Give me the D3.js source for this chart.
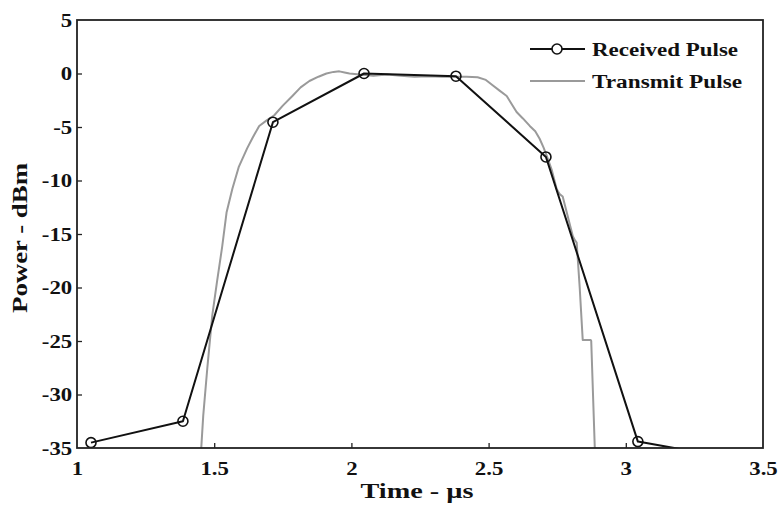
<!DOCTYPE html>
<html>
<head>
<meta charset="utf-8">
<script src="https://cdn.jsdelivr.net/npm/d3@7"></script>
<style>
  html, body { margin: 0; padding: 0; background: #fff; }
  svg { display: block; }
  text { font-family: "Liberation Serif", "Times New Roman", serif; font-weight: bold; fill: #111; }
</style>
</head>
<body>
<svg id="chart" width="779" height="506"></svg>
<script>
// ---- data ----
const receivedTime  = [1.051, 1.386, 1.714, 2.046, 2.381, 2.709, 3.044, 3.376];
const receivedPower = [-34.5, -32.5, -4.55, 0.0, -0.25, -7.8, -34.4, -35.9];

const transmitTime  = [1.448, 1.46, 1.475, 1.493, 1.51, 1.529, 1.545, 1.566, 1.59, 1.62, 1.64, 1.664, 1.69, 1.719, 1.75, 1.785, 1.815, 1.847, 1.88, 1.909, 1.935, 1.956, 1.975, 1.993, 2.03, 2.08, 2.13, 2.18, 2.23, 2.28, 2.33, 2.38, 2.42, 2.46, 2.49, 2.51, 2.54, 2.566, 2.585, 2.602, 2.625, 2.65, 2.67, 2.686, 2.70, 2.712, 2.73, 2.748, 2.76, 2.77, 2.79, 2.807, 2.815, 2.821, 2.832, 2.843, 2.845, 2.872, 2.874, 2.887, 2.888];
const transmitPower = [-37, -32, -27.5, -22.6, -19.5, -16.2, -13.0, -10.8, -8.7, -7.0, -6.0, -4.9, -4.4, -3.9, -3.0, -2.1, -1.3, -0.7, -0.3, 0.0, 0.15, 0.2, 0.1, 0.0, -0.1, -0.2, -0.1, -0.2, -0.3, -0.25, -0.3, -0.3, -0.3, -0.35, -0.6, -1.0, -1.6, -2.1, -2.9, -3.6, -4.2, -4.9, -5.4, -6.1, -6.9, -7.7, -9.0, -10.8, -11.3, -11.5, -13.5, -15.2, -15.6, -15.8, -20, -24.9, -24.9, -24.9, -25, -35, -37];

const xTicks = [1, 1.5, 2, 2.5, 3, 3.5];
const yTicks = [5, 0, -5, -10, -15, -20, -25, -30, -35];
const seriesNames = ["Received Pulse", "Transmit Pulse"];
const xTitle = "Time  - \u00b5s";
const yTitle = "Power  -  dBm";

// ---- layout ----
const L = 77, R = 763, T = 20, B = 448;
const svg = d3.select("#chart");
const x = d3.scaleLinear().domain([1, 3.5]).range([L, R]);
const y = d3.scaleLinear().domain([-35, 5]).range([B, T]);

svg.append("defs").append("clipPath").attr("id", "clip")
  .append("rect").attr("x", L).attr("y", T).attr("width", R - L).attr("height", B - T);

const fmt = d => String(d);
// axes
const xAxis = svg.append("g").attr("transform", `translate(0,${B})`)
  .call(d3.axisBottom(x).tickValues(xTicks).tickFormat(fmt).tickSizeInner(-5).tickSizeOuter(0).tickPadding(14));
const yAxis = svg.append("g").attr("transform", `translate(${L},0)`)
  .call(d3.axisLeft(y).tickValues(yTicks).tickFormat(fmt).tickSizeInner(-5).tickSizeOuter(0).tickPadding(4));
[xAxis, yAxis].forEach(g => {
  g.attr("font-family", null).attr("font-size", null);
  g.select(".domain").remove();
  g.selectAll(".tick line").attr("stroke", "#222").attr("stroke-width", 1.3);
  g.selectAll(".tick text").attr("font-size", 19).attr("fill", "#111")
    .style("font-family", "'Liberation Serif', 'Times New Roman', serif").style("font-weight", "bold");
});
// hide end ticks that coincide with frame
xAxis.selectAll(".tick").filter(d => d === 1 || d === 3.5).select("line").remove();
yAxis.selectAll(".tick").filter(d => d === 5 || d === -35).select("line").remove();
xAxis.selectAll(".tick text").attr("transform", "scale(1.2,1)");
yAxis.selectAll(".tick text").attr("transform", "scale(1.2,1)");

// lines
const plot = svg.append("g").attr("clip-path", "url(#clip)");
const line = d3.line().x(d => x(d[0])).y(d => y(d[1]));
const tData = transmitTime.map((t, i) => [t, transmitPower[i]]);
const rData = receivedTime.map((t, i) => [t, receivedPower[i]]);

plot.append("path").datum(tData).attr("d", line)
  .attr("fill", "none").attr("stroke", "#9a9a9a").attr("stroke-width", 2).attr("stroke-linejoin", "round");
plot.append("path").datum(rData).attr("d", line)
  .attr("fill", "none").attr("stroke", "#111").attr("stroke-width", 2).attr("stroke-linejoin", "round");
plot.selectAll("circle.m").data(rData).enter().append("circle").attr("class", "m")
  .attr("cx", d => x(d[0])).attr("cy", d => y(d[1])).attr("r", 5)
  .attr("fill", "none").attr("stroke", "#111").attr("stroke-width", 1.6);

// frame
svg.append("rect").attr("x", L).attr("y", T).attr("width", R - L).attr("height", B - T)
  .attr("fill", "none").attr("stroke", "#222").attr("stroke-width", 1.8);

// titles
svg.append("text").attr("x", 417).attr("y", 498).attr("text-anchor", "middle")
  .attr("font-size", 20).attr("textLength", 113).attr("lengthAdjust", "spacingAndGlyphs").text(xTitle);
svg.append("text").attr("transform", "translate(27,238) rotate(-90)").attr("text-anchor", "middle")
  .attr("font-size", 20).attr("textLength", 150).attr("lengthAdjust", "spacingAndGlyphs").text(yTitle);

// legend
const leg = svg.append("g");
const legY = [49, 81];
const legW = [146, 150];
seriesNames.forEach((name, i) => {
  leg.append("line").attr("x1", 530).attr("x2", 585).attr("y1", legY[i]).attr("y2", legY[i])
    .attr("stroke", i === 0 ? "#111" : "#9a9a9a").attr("stroke-width", 2);
  if (i === 0) {
    leg.append("circle").attr("cx", 557).attr("cy", legY[i]).attr("r", 5)
      .attr("fill", "#fff").attr("stroke", "#111").attr("stroke-width", 1.6);
  }
  leg.append("text").attr("x", 592).attr("y", legY[i] + 7).attr("font-size", 18)
    .attr("textLength", legW[i]).attr("lengthAdjust", "spacingAndGlyphs").text(name);
});
</script>
</body>
</html>
